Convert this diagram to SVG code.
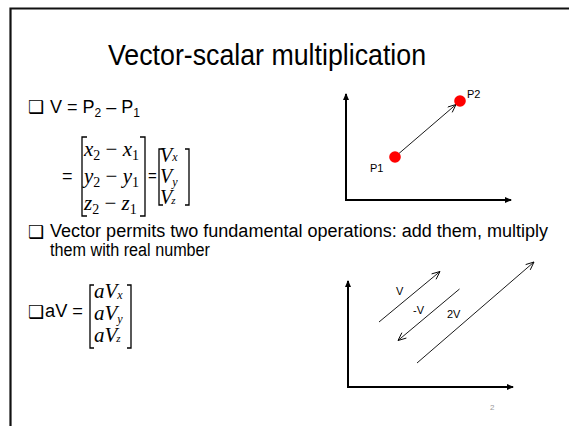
<svg xmlns="http://www.w3.org/2000/svg" width="569" height="426" viewBox="0 0 569 426">
<style>
.sans{font-family:"Liberation Sans",Arial,sans-serif;fill:#000}
.math{font-family:"Liberation Serif","Times New Roman",serif;font-style:italic;fill:#000}
.mnum{font-family:"Liberation Serif","Times New Roman",serif;font-style:normal;fill:#000}
.bul{font-family:"DejaVu Sans",sans-serif;fill:#000}
.brk{fill:none;stroke:#000;stroke-width:1.3}
.axis{fill:none;stroke:#000;stroke-width:2}
.vec{fill:none;stroke:#000;stroke-width:0.9}
</style>
<defs>
<marker id="axhead" markerWidth="8" markerHeight="8" refX="6" refY="4" orient="auto" markerUnits="userSpaceOnUse">
<path d="M0,1 L7,4 L0,7 Z" fill="#000"/>
</marker>
<marker id="open" markerWidth="12" markerHeight="10" refX="9" refY="4" orient="auto" markerUnits="userSpaceOnUse">
<path d="M1,0.5 L9,4 L1,7.5" fill="none" stroke="#000" stroke-width="0.9"/>
</marker>
</defs>
<rect width="569" height="426" fill="#fff"/>
<g id="frame">
<path d="M10.5,426 L10.5,8.5 L569,8.5" fill="none" stroke="#111" stroke-width="2.2"/>
</g>
<g id="title">
<text class="sans" x="108" y="65" font-size="30" textLength="318" lengthAdjust="spacingAndGlyphs">Vector-scalar multiplication</text>
</g>
<g id="eq1">
<text class="bul" x="28" y="113" font-size="18">❑</text>
<text class="sans" x="50" y="113" font-size="18">V = P<tspan font-size="12" dy="4">2</tspan><tspan dy="-4"> – P</tspan><tspan font-size="12" dy="4">1</tspan></text>
<text class="sans" x="62" y="182" font-size="18">=</text>
<path class="brk" d="M87,137 L82,137 L82,216 L87,216"/>
<path class="brk" d="M140,137 L145,137 L145,216 L140,216"/>
<text class="math" x="84" y="156" font-size="21">x<tspan class="mnum" font-size="14" dy="4">2</tspan><tspan class="mnum" dy="-4"> − </tspan>x<tspan class="mnum" font-size="14" dy="4">1</tspan></text>
<text class="math" x="84" y="183" font-size="21">y<tspan class="mnum" font-size="14" dy="4">2</tspan><tspan class="mnum" dy="-4"> − </tspan>y<tspan class="mnum" font-size="14" dy="4">1</tspan></text>
<text class="math" x="84" y="210" font-size="21">z<tspan class="mnum" font-size="14" dy="4">2</tspan><tspan class="mnum" dy="-4"> − </tspan>z<tspan class="mnum" font-size="14" dy="4">1</tspan></text>
<text class="sans" x="148" y="181" font-size="15">=</text>
<path class="brk" d="M163,149 L159,149 L159,205 L163,205"/>
<path class="brk" d="M185,149 L189,149 L189,205 L185,205"/>
<text class="math" x="160" y="162" font-size="20">V<tspan font-size="12" dy="-1">x</tspan></text>
<text class="math" x="160" y="183" font-size="20">V<tspan font-size="12" dy="3">y</tspan></text>
<text class="math" x="160" y="204" font-size="20">V<tspan font-size="11" dx="-1">z</tspan></text>
</g>
<g id="chart1">
<line class="axis" x1="346" y1="200" x2="346" y2="94" marker-end="url(#axhead)"/>
<line class="axis" x1="345" y1="200" x2="511" y2="200" marker-end="url(#axhead)"/>
<line class="vec" x1="396" y1="156" x2="456" y2="104.5" marker-end="url(#open)"/>
<circle cx="395" cy="157" r="5.8" fill="#f00"/>
<circle cx="460" cy="101" r="5.8" fill="#f00"/>
<text class="sans" x="370" y="172" font-size="11">P1</text>
<text class="sans" x="467" y="98" font-size="11">P2</text>
</g>
<g id="text2">
<text class="bul" x="28" y="238" font-size="18">❑</text>
<text class="sans" x="50" y="237" font-size="18" textLength="498" lengthAdjust="spacingAndGlyphs">Vector permits two fundamental operations: add them, multiply</text>
<text class="sans" x="50" y="256" font-size="18" textLength="160" lengthAdjust="spacingAndGlyphs">them with real number</text>
</g>
<g id="eq2">
<text class="bul" x="28" y="318" font-size="18">❑</text>
<text class="sans" x="45" y="317" font-size="18" textLength="38" lengthAdjust="spacingAndGlyphs">aV =</text>
<path class="brk" d="M94,285 L90,285 L90,348 L94,348"/>
<path class="brk" d="M127,285 L131,285 L131,348 L127,348"/>
<text class="math" x="94" y="298" font-size="21">aV<tspan font-size="12" dy="1">x</tspan></text>
<text class="math" x="94" y="320" font-size="21">aV<tspan font-size="12" dy="3">y</tspan></text>
<text class="math" x="94" y="342" font-size="21">aV<tspan font-size="11" dx="-1">z</tspan></text>
</g>
<g id="chart2">
<line class="axis" x1="348" y1="387" x2="348" y2="281" marker-end="url(#axhead)"/>
<line class="axis" x1="347" y1="387" x2="513" y2="387" marker-end="url(#axhead)"/>
</g>
<g id="connectors">
<line class="vec" x1="379" y1="322" x2="440" y2="271.5" marker-end="url(#open)"/>
<line class="vec" x1="459.5" y1="289" x2="398" y2="340.5" marker-end="url(#open)"/>
<line class="vec" x1="417" y1="363" x2="534" y2="262" marker-end="url(#open)"/>
</g>
<g id="labels2">
<text class="sans" x="396" y="295" font-size="11">V</text>
<text class="sans" x="413" y="314" font-size="11">-V</text>
<text class="sans" x="447" y="318" font-size="11">2V</text>
</g>
<g id="pagenum">
<text class="sans" x="490" y="410" font-size="8" style="fill:#999">2</text>
</g>
</svg>
